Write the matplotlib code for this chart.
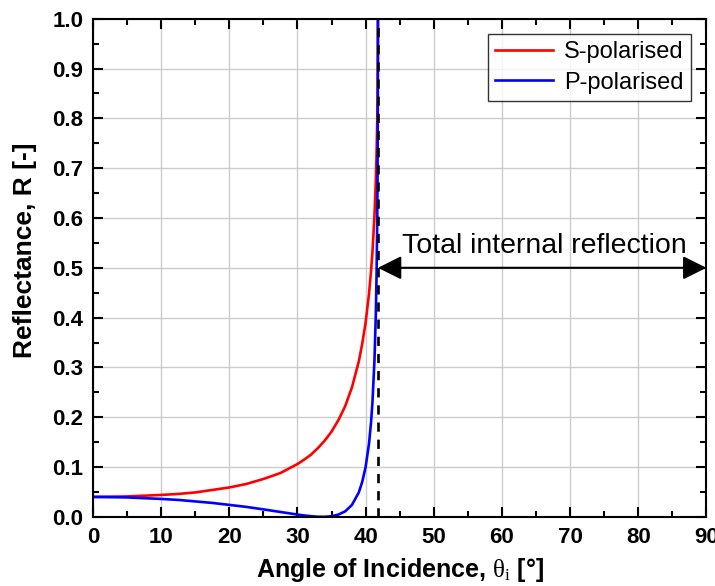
import matplotlib
matplotlib.use("Agg")
import matplotlib.pyplot as plt
from matplotlib.ticker import MultipleLocator

plt.rcParams['font.family'] = ['Liberation Sans', 'DejaVu Sans']
plt.rcParams['mathtext.fontset'] = 'custom'
plt.rcParams['mathtext.rm'] = 'Liberation Serif'

# angle of incidence [deg] and reflectances
angle = [0, 5, 10, 12.5, 15, 17.5, 20, 22.5, 25, 27.5, 30, 31, 32, 33, 34, 35, 36, 37, 38, 39,
         39.5, 40, 40.5, 40.8, 41, 41.3, 41.5, 41.6, 41.7, 41.75, 41.8, 41.81]
Rs = [0.040, 0.041, 0.044, 0.046, 0.049, 0.054, 0.059, 0.066, 0.076, 0.088, 0.106, 0.115,
      0.125, 0.138, 0.153, 0.171, 0.194, 0.222, 0.260, 0.312, 0.347, 0.390, 0.448, 0.494,
      0.531, 0.604, 0.675, 0.724, 0.791, 0.841, 0.931, 1.0]
Rp = [0.040, 0.039, 0.036, 0.034, 0.031, 0.028, 0.024, 0.020, 0.015, 0.0098, 0.0046, 0.0028,
      0.0013, 0.0002, 0.0001, 0.0012, 0.0045, 0.011, 0.024, 0.049, 0.070, 0.100, 0.147, 0.190,
      0.229, 0.314, 0.408, 0.480, 0.588, 0.676, 0.851, 1.0]
theta_c = 41.81

fig = plt.figure(figsize=(7.15, 5.86), dpi=100)
ax = fig.add_axes([0.130, 0.118, 0.858, 0.850])

ax.plot(angle, Rs, color="red", lw=1.9, label="S-polarised")
ax.plot(angle, Rp, color="blue", lw=1.9, label="P-polarised")
ax.plot([theta_c, theta_c], [0, 1], color="black", lw=1.9, ls=(0, (3.5, 3)))

ax.annotate("", xy=(theta_c, 0.5), xytext=(90, 0.5),
            arrowprops=dict(arrowstyle="<|-|>,head_length=0.6,head_width=0.3",
                            color="black", lw=1.5, mutation_scale=24, shrinkA=0, shrinkB=0))
ax.text(66.2, 0.518, "Total internal reflection", ha="center", va="bottom", fontsize=20.5)

ax.set_xlim(0, 90)
ax.set_ylim(0, 1)
ax.xaxis.set_major_locator(MultipleLocator(10))
ax.xaxis.set_minor_locator(MultipleLocator(5))
ax.yaxis.set_major_locator(MultipleLocator(0.1))
ax.yaxis.set_minor_locator(MultipleLocator(0.05))
ax.yaxis.set_major_formatter(matplotlib.ticker.FormatStrFormatter("%.1f"))
ax.grid(True, which="major", color="#cccccc", lw=1)
ax.set_axisbelow(True)
ax.tick_params(which="both", direction="in", top=True, right=True, width=1.5)
ax.tick_params(which="major", length=7, labelsize=16, pad=7)
ax.tick_params(which="minor", length=4)
for lab in ax.get_xticklabels() + ax.get_yticklabels():
    lab.set_fontweight("bold")
for sp in ax.spines.values():
    sp.set_linewidth(1.5)

ax.set_xlabel(r"Angle of Incidence, $\mathrm{\theta_i}$ [°]", fontsize=18, fontweight="bold")
ax.set_ylabel("Reflectance, R [-]", fontsize=19, fontweight="bold")
ax.xaxis.set_label_coords(0.5, -0.078)
ax.yaxis.set_label_coords(-0.091, 0.536)

leg = ax.legend(loc="upper right", fontsize=17, frameon=True, fancybox=False,
                edgecolor="black", handlelength=2.45, borderpad=0.3, labelspacing=0.36,
                handletextpad=0.5, borderaxespad=0.65)
leg.get_frame().set_linewidth(1.0)

fig.savefig("out.png", dpi=100)
